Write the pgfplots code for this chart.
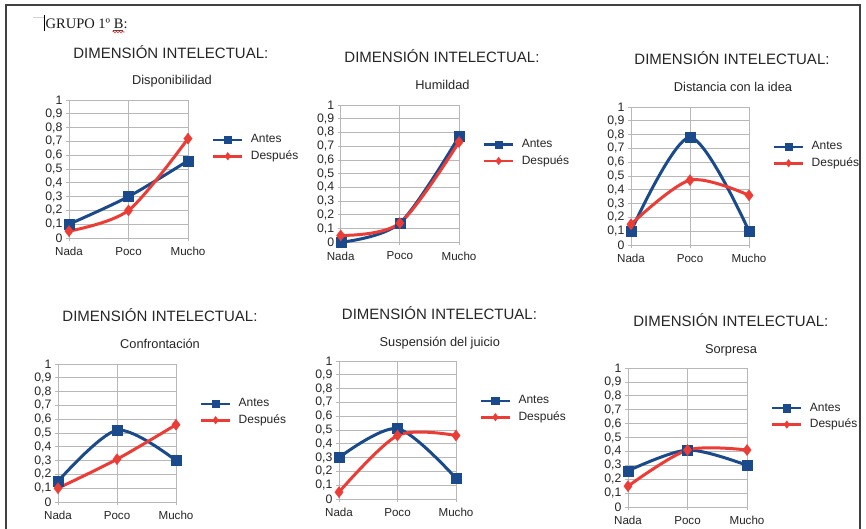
\documentclass[border=0pt]{standalone}
\usepackage{fontspec}
\setmainfont{Liberation Sans}
\newfontfamily\docserif{Liberation Serif}
\usepackage{pgfplots}
\pgfplotsset{compat=1.18}
\usetikzlibrary{decorations.pathmorphing}

\definecolor{antes}{HTML}{1B4A8C}
\definecolor{despues}{HTML}{EC3C36}
\definecolor{gridgray}{HTML}{B8B8B8}

\newcommand\titlefont{\fontsize{15}{18}\selectfont}
\newcommand\subfont{\fontsize{12.8}{15}\selectfont}

\pgfplotsset{
  dimchart/.style={
    scale only axis,
    anchor=south west,
    xmin=0, xmax=2, ymin=0, ymax=1,
    xtick={0,1,2}, xticklabels={Nada,Poco,Mucho},
    ytick={0,0.1,0.2,0.3,0.4,0.5,0.6,0.7,0.8,0.9,1},
    yticklabels={0,{0,1},{0,2},{0,3},{0,4},{0,5},{0,6},{0,7},{0,8},{0,9},1},
    xmajorgrids, ymajorgrids,
    grid style={gridgray, line width=0.8pt},
    axis line style={gridgray, line width=0.8pt},
    tick style={gridgray, line width=0.8pt},
    tick align=outside, major tick length=3pt,
    tick pos=left,
    yticklabel style={font=\fontsize{12.3}{14}\selectfont, text=black!85},
    xticklabel style={font=\fontsize{11.6}{14}\selectfont, text=black!85, yshift=-3pt},
    clip=false,
    legend style={draw=none, fill=none, inner sep=0pt,
      at={(1.2,0.652)}, anchor=west,
      font=\fontsize{12}{14}\selectfont, text=black!85,
      nodes={inner sep=1pt, text height=8.6pt, text depth=2.4pt},
      row sep=3.4pt,
      /tikz/every odd column/.append style={column sep=6.3pt}},
    legend cell align=left,
    legend image code/.code={%
      \draw[mark repeat=2, mark phase=2, #1, line width=2.6pt, mark size=3.8pt]
        plot coordinates {(0pt,0pt) (14.5pt,0pt) (29pt,0pt)};},
  },
  antesplot/.style={antes, line width=3pt, smooth, mark=square*,
    mark size=5pt, mark options={line width=0.3pt, solid}},
  despuesplot/.style={despues, line width=3pt, smooth, mark=diamond*,
    mark size=5.6pt, mark options={line width=0.3pt, solid}},
}

\begin{document}
\begin{tikzpicture}
\path[use as bounding box, fill=white] (0pt,0pt) rectangle (866pt,-529pt);

% page frame, cursor and heading
\draw[black!75, line width=1.2pt] (6pt,-529pt) -- (6pt,-5pt) -- (860pt,-5pt) -- (860pt,-529pt);
\draw[gray!35, line width=0.6pt] (33pt,-17pt) -- (44pt,-17pt);
\draw[black, line width=0.9pt] (44.5pt,-15.5pt) -- (44.5pt,-31pt);
\node[anchor=base west, inner sep=0pt, font=\docserif\fontsize{14.5}{17}\selectfont, text=black!90]
  at (45.5pt,-28.3pt) {GRUPO 1º B:};
\draw[black!70, line width=0.6pt] (112.5pt,-30pt) -- (123pt,-30pt);
\draw[red!85, line width=0.6pt, decorate, decoration={snake, amplitude=0.8pt, segment length=3pt}]
  (112.5pt,-32pt) -- (124.5pt,-32pt);

% ---------- Disponibilidad ----------
\begin{axis}[dimchart, at={(69pt,-238pt)}, width=119pt, height=138pt]
\addplot[antesplot] coordinates {(0,0.10) (1,0.30) (2,0.56)};
\addplot[despuesplot] coordinates {(0,0.05) (1,0.20) (2,0.72)};
\legend{Antes,Después}
\end{axis}
\node[anchor=base, font=\titlefont, text=black!85] at (170.8pt,-58.3pt) {DIMENSIÓN INTELECTUAL:};
\node[anchor=base, font=\subfont, text=black!85] at (172pt,-85pt) {Disponibilidad};

% ---------- Humildad ----------
\begin{axis}[dimchart, at={(340.7pt,-242.3pt)}, width=118.3pt, height=137.3pt]
\addplot[antesplot] coordinates {(0,0.00) (1,0.14) (2,0.77)};
\addplot[despuesplot] coordinates {(0,0.05) (1,0.14) (2,0.73)};
\legend{Antes,Después}
\end{axis}
\node[anchor=base, font=\titlefont, text=black!85] at (442pt,-62.7pt) {DIMENSIÓN INTELECTUAL:};
\node[anchor=base, font=\subfont, text=black!85] at (442.5pt,-89.3pt) {Humildad};

% ---------- Distancia con la idea ----------
\begin{axis}[dimchart, at={(631pt,-245pt)}, width=118pt, height=138pt]
\addplot[antesplot] coordinates {(0,0.10) (1,0.78) (2,0.10)};
\addplot[despuesplot] coordinates {(0,0.15) (1,0.47) (2,0.36)};
\legend{Antes,Después}
\end{axis}
\node[anchor=base, font=\titlefont, text=black!85] at (732pt,-65pt) {DIMENSIÓN INTELECTUAL:};
\node[anchor=base, font=\subfont, text=black!85] at (733pt,-91.7pt) {Distancia con la idea};

% ---------- Confrontación ----------
\begin{axis}[dimchart, at={(58pt,-502pt)}, width=118pt, height=138pt]
\addplot[antesplot] coordinates {(0,0.15) (1,0.52) (2,0.30)};
\addplot[despuesplot] coordinates {(0,0.10) (1,0.31) (2,0.56)};
\legend{Antes,Después}
\end{axis}
\node[anchor=base, font=\titlefont, text=black!85] at (160pt,-321.7pt) {DIMENSIÓN INTELECTUAL:};
\node[anchor=base, font=\subfont, text=black!85] at (160pt,-348.3pt) {Confrontación};

% ---------- Suspensión del juicio ----------
\begin{axis}[dimchart, at={(339pt,-499pt)}, width=117pt, height=138pt]
\addplot[antesplot] coordinates {(0,0.30) (1,0.51) (2,0.15)};
\addplot[despuesplot] coordinates {(0,0.05) (1,0.46) (2,0.46)};
\legend{Antes,Después}
\end{axis}
\node[anchor=base, font=\titlefont, text=black!85] at (439.5pt,-319.3pt) {DIMENSIÓN INTELECTUAL:};
\node[anchor=base, font=\subfont, text=black!85] at (439.8pt,-346pt) {Suspensión del juicio};

% ---------- Sorpresa ----------
\begin{axis}[dimchart, at={(628pt,-507pt)}, width=119pt, height=139pt]
\addplot[antesplot] coordinates {(0,0.26) (1,0.41) (2,0.30)};
\addplot[despuesplot] coordinates {(0,0.15) (1,0.41) (2,0.41)};
\legend{Antes,Después}
\end{axis}
\node[anchor=base, font=\titlefont, text=black!85] at (730.8pt,-326pt) {DIMENSIÓN INTELECTUAL:};
\node[anchor=base, font=\subfont, text=black!85] at (731pt,-353.3pt) {Sorpresa};
\end{tikzpicture}
\end{document}
